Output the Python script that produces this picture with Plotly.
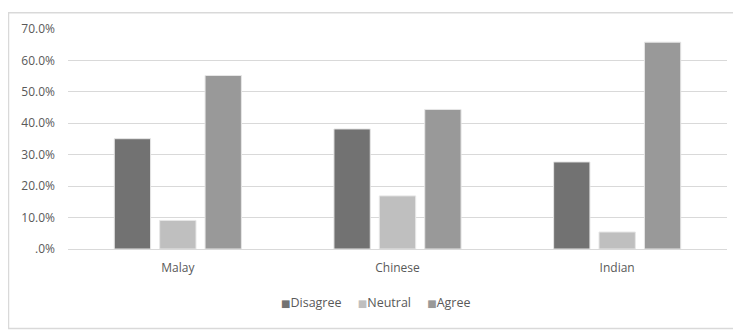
import plotly.graph_objects as go

categories = ["Malay", "Chinese", "Indian"]
disagree = [35.1, 38.2, 27.7]
neutral = [9.1, 16.9, 5.4]
agree = [55.2, 44.4, 65.8]
tick_vals = [0, 10, 20, 30, 40, 50, 60, 70]
tick_text = [".0%", "10.0%", "20.0%", "30.0%", "40.0%", "50.0%", "60.0%", "70.0%"]

series = [
    ("Disagree", disagree, "#727272"),
    ("Neutral", neutral, "#bfbfbf"),
    ("Agree", agree, "#999999"),
]

FONT = "Open Sans, DejaVu Sans, sans-serif"
TXT = "#595959"

fig = go.Figure()
for name, vals, color in series:
    fig.add_trace(go.Bar(
        x=categories, y=vals, name=name,
        marker=dict(color=color, line=dict(color="#e6e6e6", width=1)),
    ))

# compact legend built as text
legend_text = "&nbsp;&nbsp;&nbsp;&nbsp;&nbsp;".join(
    f"<span style='color:{c};font-size:10px'>■</span>{n}" for n, _, c in series
)

W, H = 733, 324
fig.update_layout(
    width=W, height=H,
    margin=dict(l=60, r=14, t=17, b=83),
    paper_bgcolor="white", plot_bgcolor="white",
    barmode="group", bargap=0.38, bargroupgap=0.2,
    font=dict(family=FONT, size=12, color=TXT),
    showlegend=False,
    xaxis=dict(showgrid=False, showline=False, ticks="", tickfont=dict(size=12),
               ticklabelstandoff=10),
    yaxis=dict(range=[0, 70], tickvals=tick_vals, ticktext=tick_text,
               showgrid=True, gridcolor="#d9d9d9", gridwidth=1,
               zeroline=True, zerolinecolor="#d9d9d9", zerolinewidth=1,
               showline=False, ticks="", ticklabelstandoff=12,
               tickfont=dict(size=12)),
    annotations=[dict(text=legend_text, xref="paper", yref="paper",
                      x=0.468, y=-0.245, xanchor="center", yanchor="middle",
                      showarrow=False, font=dict(size=12.5, color=TXT, family=FONT))],
    shapes=[dict(type="rect", xref="paper", yref="paper",
                 x0=(0.5 - 60) / 659, x1=(760 - 60) / 659,
                 y0=(241 - 322) / 224, y1=(241 - 0.5) / 224,
                 line=dict(color="#d9d9d9", width=1.5), layer="below")],
)

fig.write_html("out.html")
